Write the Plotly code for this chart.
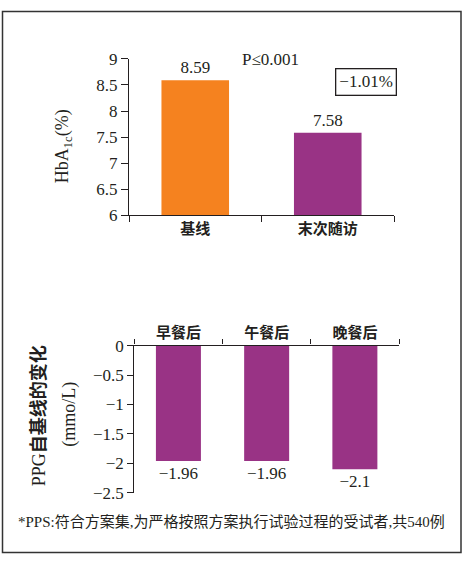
import plotly.graph_objects as go

# ---- data ----
hba_categories = ["基线", "末次随访"]
hba_values = [8.59, 7.58]
hba_colors = ["#F5821F", "#993385"]

ppg_categories = ["早餐后", "午餐后", "晚餐后"]
ppg_values = [-1.96, -1.96, -2.1]

top_yticks = [6, 6.5, 7, 7.5, 8, 8.5, 9]
bottom_yticks = [0, -0.5, -1, -1.5, -2, -2.5]

p_text = "P≤0.001"
change_text = "−1.01%"
footnote = "*PPS:符合方案集,为严格按照方案执行试验过程的受试者,共540例"

W, H = 463, 564
def px(x):
    return x / W
def py(y):
    return 1 - y / H

SERIF = "Liberation Serif, Noto Sans CJK SC"
CJK = "Noto Sans CJK SC"
INK = "#231f20"

def fmt(v):
    return f"{v}".replace("-", "−")

fig = go.Figure()
fig.add_trace(go.Bar(
    x=hba_categories, y=hba_values, marker=dict(color=hba_colors, line=dict(width=0)),
    text=[fmt(v) for v in hba_values], textposition="outside",
    textfont=dict(family=SERIF, size=17, color=INK), cliponaxis=False,
    xaxis="x", yaxis="y", showlegend=False,
))
fig.add_trace(go.Bar(
    x=ppg_categories, y=ppg_values, marker=dict(color="#993385", line=dict(width=0)),
    text=[fmt(v) for v in ppg_values], textposition="outside",
    textfont=dict(family=SERIF, size=17, color=INK), cliponaxis=False,
    xaxis="x2", yaxis="y2", showlegend=False,
))

axis_common = dict(showline=True, linecolor=INK, linewidth=1.3, ticks="outside",
                   tickcolor=INK, tickwidth=1.3, showgrid=False, zeroline=False,
                   fixedrange=True)

fig.update_layout(
    width=W, height=H, margin=dict(l=0, r=0, t=0, b=0),
    paper_bgcolor="white", plot_bgcolor="white",
    bargap=0.49,
    xaxis=dict(domain=[px(129), px(394)], anchor="y", tickson="boundaries", ticklen=6,
               tickfont=dict(family=CJK, size=15, color=INK, weight="bold"), **axis_common),
    yaxis=dict(domain=[py(213.3), py(51.7)], anchor="x", range=[6, 9],
               tickvals=top_yticks, ticktext=[f"{v:g}" for v in top_yticks], ticklen=7,
               tickfont=dict(family=SERIF, size=17, color=INK), **axis_common),
    xaxis2=dict(domain=[px(134.3), px(399)], anchor="y2", side="top", tickson="boundaries",
                ticklen=5, tickfont=dict(family=CJK, size=15, color=INK, weight="bold"),
                **axis_common),
    yaxis2=dict(domain=[py(500.7), py(348.3)], anchor="x2", range=[-2.5, 0],
                tickvals=bottom_yticks, ticktext=[fmt(f"{v:g}") for v in bottom_yticks],
                ticklen=6, tickfont=dict(family=SERIF, size=17, color=INK), **axis_common),
    font=dict(family=SERIF, color=INK),
)

annotations = [
    dict(x=px(270), y=py(52), text=p_text, font=dict(family=SERIF, size=17, color=INK)),
    dict(x=px(366), y=py(75.5), text=change_text, font=dict(family=SERIF, size=17, color=INK),
         bordercolor=INK, borderwidth=1.3, borderpad=3),
    dict(x=px(63), y=py(142), text="HbA<sub>1c</sub>(%)", textangle=-90,
         font=dict(family=SERIF, size=18, color=INK)),
    dict(x=px(38.5), y=py(421), text="PPG<b>自基线的变化</b>", textangle=-90,
         font=dict(family=SERIF, size=18, color=INK)),
    dict(x=px(70), y=py(420), text="(mmo/L)", textangle=-90,
         font=dict(family=SERIF, size=18, color=INK)),
    dict(x=px(231), y=py(530), text=footnote,
         font=dict(family=SERIF, size=15, color=INK)),
]
for a in annotations:
    a.update(xref="paper", yref="paper", showarrow=False, xanchor="center", yanchor="middle")
fig.update_layout(annotations=annotations)

fig.add_shape(type="rect", xref="paper", yref="paper",
              x0=px(2.5), x1=px(461), y0=py(562.5), y1=py(2.5),
              line=dict(color="#333333", width=1.5))

fig.write_html("out.html")
